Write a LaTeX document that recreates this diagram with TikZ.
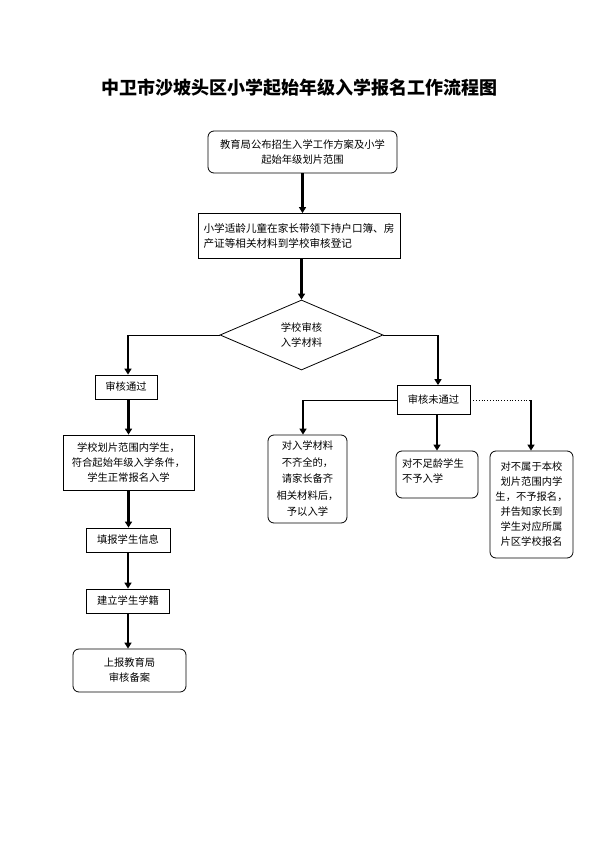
\documentclass[tikz,border=0pt]{standalone}
\usepackage{fontspec}
\newfontfamily\cjk{Noto Sans CJK SC}
\usetikzlibrary{shapes.geometric,arrows.meta}
\begin{document}
\begin{tikzpicture}[x=1pt,y=-1pt,
  box/.style={draw,line width=0.8pt,inner sep=0pt,align=center,font=\cjk\fontsize{10.3}{15}\selectfont},
  rbox/.style={box,rounded corners=6pt},
  flow/.style={line width=2.8pt,-{Triangle[width=7pt,length=6pt]}},
  link/.style={line width=0.8pt},
  dlink/.style={line width=0.8pt,dotted}]
\useasboundingbox (0,0) rectangle (596,842);
\node[font=\cjk\bfseries\fontsize{18}{20}\selectfont] (title) at (299,88) {中卫市沙坡头区小学起始年级入学报名工作流程图};
\node[rbox,minimum width=189pt,minimum height=42pt] (b1) at (302.5,152) {教育局公布招生入学工作方案及小学\\起始年级划片范围};
\node[box,minimum width=202pt,minimum height=45pt,align=left,font=\cjk\fontsize{10.6}{15}\selectfont] (b2) at (299,236) {小学适龄儿童在家长带领下持户口簿、房\\产证等相关材料到学校审核登记};
\node[diamond,draw,line width=0.8pt,minimum width=163pt,minimum height=70pt,aspect=2.33,inner sep=0pt,align=center,font=\cjk\fontsize{10.3}{15}\selectfont] (d) at (301.5,335) {学校审核\\入学材料};
% left column
\node[box,minimum width=62pt,minimum height=24pt] (pass) at (126,387) {审核通过};
\node[box,minimum width=131pt,minimum height=55pt] (p1) at (128.5,462.5) {学校划片范围内学生，\\符合起始年级入学条件，\\学生正常报名入学};
\node[box,minimum width=84pt,minimum height=24pt] (p2) at (128,540) {填报学生信息};
\node[box,minimum width=83pt,minimum height=24pt] (p3) at (128,601) {建立学生学籍};
\node[rbox,minimum width=113pt,minimum height=43pt] (p4) at (129.5,670.5) {上报教育局\\审核备案};
% right side
\node[box,minimum width=73pt,minimum height=29pt] (fail) at (433.5,400) {审核未通过};
\node[rbox,minimum width=79pt,minimum height=88pt,font=\cjk\fontsize{10.3}{16.5}\selectfont] (f1) at (307.5,479) {对入学材料\\不齐全的，\\请家长备齐\\相关材料后，\\予以入学};
\node[rbox,minimum width=82pt,minimum height=47pt] (f2) at (437,474.5) {\parbox[c][47pt][t]{70pt}{\vspace{8pt}对不足龄学生\\不予入学}};
\node[rbox,minimum width=83pt,minimum height=107pt] (f3) at (531.5,504.5) {对不属于本校\\划片范围内学\\生，不予报名，\\并告知家长到\\学生对应所属\\片区学校报名};
% connectors
\draw[flow] (b1.south) -- (b1.south |- b2.north);
\draw[flow] (d.north |- b2.south) -- (d.north);
\coordinate (cL) at (128,335);
\draw[link] (d.west) -- (cL);
\draw[flow] (cL) -- (cL |- pass.north);
\draw[flow] (p1.north |- pass.south) -- (p1.north);
\draw[flow] (p1.south) -- (p1.south |- p2.north);
\draw[flow] (p2.south) -- (p3.north);
\draw[flow] (p3.south) -- (p3.south |- p4.north);
\coordinate (cR) at (438,335);
\draw[link] (d.east) -- (cR);
\draw[flow] (cR) -- (cR |- fail.north);
\coordinate (cF1) at (303,400);
\draw[link] (fail.west) -- (cF1);
\draw[flow] (cF1) -- (cF1 |- f1.north);
\draw[flow] (f2.north |- fail.south) -- (f2.north);
\coordinate (cF3) at (531,400);
\draw[dlink] (fail.east) -- (cF3);
\draw[flow] (cF3) -- (cF3 |- f3.north);
\end{tikzpicture}
\end{document}
